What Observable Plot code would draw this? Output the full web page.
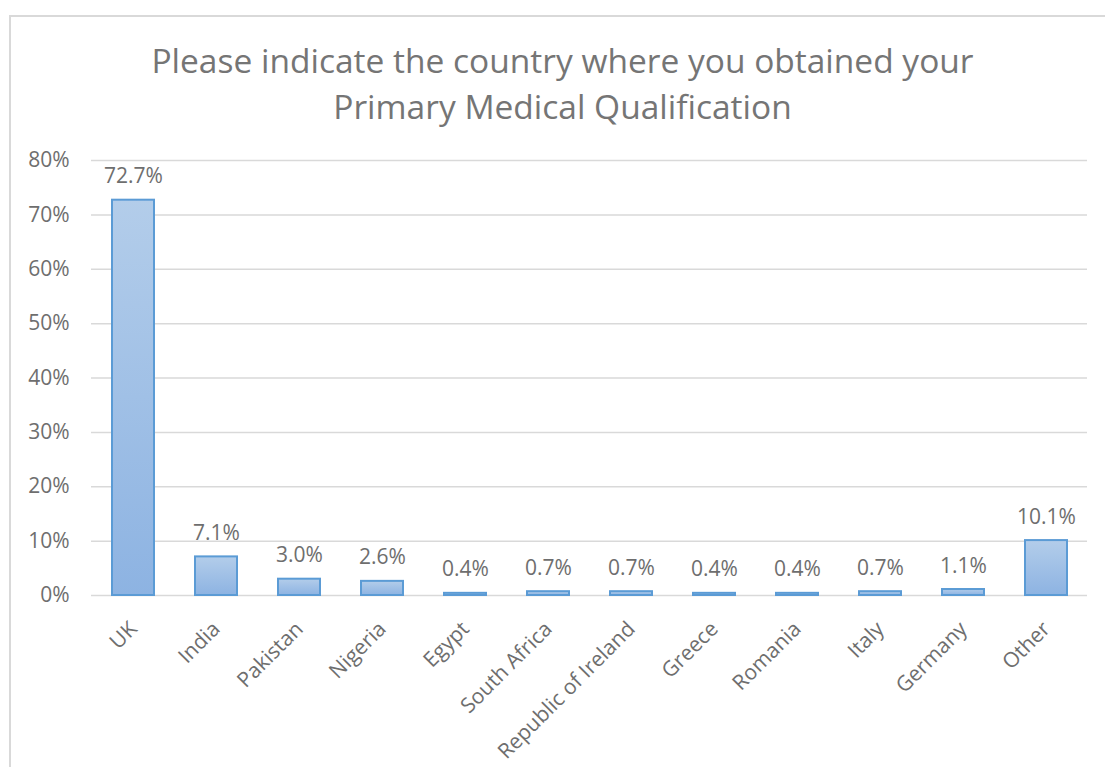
<!DOCTYPE html>
<html>
<head>
<meta charset="utf-8">
<script src="https://cdn.jsdelivr.net/npm/d3@7"></script>
<script src="https://cdn.jsdelivr.net/npm/@observablehq/plot@0.6"></script>
<style>
  html, body { margin: 0; padding: 0; background: #fff; }
  body { width: 1105px; height: 767px; position: relative; overflow: hidden; font-family: "Open Sans", sans-serif; }
  #frame { position: absolute; left: 9px; top: 15px; width: 1200px; height: 900px; border-left: 2px solid #d9d9d9; border-top: 2px solid #d9d9d9; }
  #title { position: absolute; left: 0; top: 37px; width: 1125px; text-align: center; color: #757575; font-size: 33.5px; line-height: 46px; }
  #chart { position: absolute; left: 0; top: 130px; }
</style>
</head>
<body>
<div id="frame"></div>
<div id="title">Please indicate the country where you obtained your<br>Primary Medical Qualification</div>
<div id="chart"></div>
<script>
const countries = ["UK", "India", "Pakistan", "Nigeria", "Egypt", "South Africa", "Republic of Ireland", "Greece", "Romania", "Italy", "Germany", "Other"];
const shares = [0.727, 0.071, 0.030, 0.026, 0.004, 0.007, 0.007, 0.004, 0.004, 0.007, 0.011, 0.101];
const yTicks = [0, 0.1, 0.2, 0.3, 0.4, 0.5, 0.6, 0.7, 0.8];

const data = countries.map((c, i) => ({country: c, share: shares[i]}));

const plot = Plot.plot({
  width: 1105,
  height: 637,
  marginLeft: 91,
  marginRight: 18,
  marginTop: 30,
  marginBottom: 172,
  style: {fontFamily: "'Open Sans', sans-serif", fontSize: "21px", color: "#6e6e6e", background: "transparent"},
  x: {domain: countries, paddingInner: 0.5, paddingOuter: 0.25, label: null},
  y: {domain: [0, 0.8], label: null},
  marks: [
    Plot.gridY(yTicks, {stroke: "#d9d9d9", strokeOpacity: 1, strokeWidth: 1.5}),
    Plot.barY(data, {x: "country", y: "share", fill: "url(#barGrad)", stroke: "#5b9bd5", strokeWidth: 2}),
    Plot.text(data, {x: "country", y: "share", text: d => (d.share * 100).toFixed(1) + "%", dy: -17, lineAnchor: "bottom", fill: "#6e6e6e", fontSize: 21}),
    Plot.axisY(yTicks, {tickFormat: d3.format(".0%"), tickSize: 0, tickPadding: 22, fontSize: 21, fill: "#6e6e6e", label: null}),
    Plot.axisX({tickSize: 0, tickPadding: 30, tickRotate: -45, fontSize: 21, fill: "#6e6e6e", label: null})
  ]
});

const defs = d3.select(plot).insert("defs", ":first-child");
const g = defs.append("linearGradient").attr("id", "barGrad").attr("x1", 0).attr("y1", 0).attr("x2", 0).attr("y2", 1);
g.append("stop").attr("offset", "0%").attr("stop-color", "#b3cdea");
g.append("stop").attr("offset", "100%").attr("stop-color", "#8db3e2");

document.getElementById("chart").appendChild(plot);
</script>
</body>
</html>
